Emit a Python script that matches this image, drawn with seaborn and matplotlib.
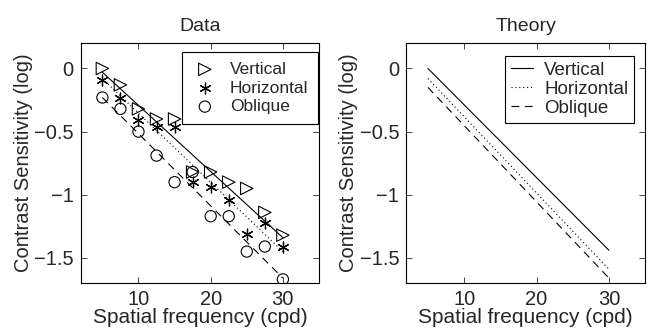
import numpy as np
import pandas as pd
import matplotlib
matplotlib.use('Agg')
import matplotlib.pyplot as plt
import seaborn as sns

# Measured contrast sensitivity (log) at each spatial frequency
freq = [5, 7.5, 10, 12.5, 15, 17.5, 20, 22.5, 25, 27.5, 30]
vertical = [0.0, -0.13, -0.32, -0.40, -0.40, -0.82, -0.82, -0.90, -0.95, -1.14, -1.32]
horizontal = [-0.09, -0.23, -0.41, -0.46, -0.46, -0.90, -0.94, -1.045, -1.31, -1.22, -1.41]
oblique = [-0.23, -0.32, -0.50, -0.69, -0.90, -0.82, -1.17, -1.17, -1.45, -1.41, -1.67]

# Fitted lines in the Data panel (end points)
fit_x = [5, 30]
fit_vertical = [-0.03, -1.34]
fit_horizontal = [-0.08, -1.45]
fit_oblique = [-0.23, -1.66]

# Theory curves (end points)
theory_x = [5, 30]
theory_vertical = [0.0, -1.44]
theory_horizontal = [-0.08, -1.59]
theory_oblique = [-0.15, -1.66]

xticks = [10, 20, 30]
yticks = [0, -0.5, -1, -1.5]
ytick_labels = ['0', '\u22120.5', '\u22121', '\u22121.5']

sns.set_style('ticks')
plt.rcParams['font.family'] = ['Liberation Sans', 'DejaVu Sans']

df = pd.DataFrame({'freq': freq, 'Vertical': vertical,
                   'Horizontal': horizontal, 'Oblique': oblique})
fit = pd.DataFrame({'x': fit_x, 'Vertical': fit_vertical,
                    'Horizontal': fit_horizontal, 'Oblique': fit_oblique})
theory = pd.DataFrame({'x': theory_x, 'Vertical': theory_vertical,
                       'Horizontal': theory_horizontal, 'Oblique': theory_oblique})

fig = plt.figure(figsize=(6.51, 3.30), dpi=100)
ax1 = fig.add_axes([0.124, 0.142, 0.366, 0.727])
ax2 = fig.add_axes([0.624, 0.142, 0.367, 0.727])

lw = 0.8
styles = {'Vertical': '-', 'Horizontal': (0, (1, 2.5)), 'Oblique': (0, (7, 5))}

# Data panel
for name in ['Vertical', 'Horizontal', 'Oblique']:
    sns.lineplot(data=fit, x='x', y=name, ax=ax1, color='black', lw=lw,
                 linestyle=styles[name], legend=False)
sns.scatterplot(data=df, x='freq', y='Vertical', ax=ax1, marker='>', s=80,
                facecolor='none', edgecolor='black', linewidth=0.8,
                label='Vertical', zorder=3)
sns.scatterplot(data=df, x='freq', y='Horizontal', ax=ax1, marker=(6, 2, 0), s=60,
                color='black', linewidth=0.9, label='Horizontal', zorder=3)
sns.scatterplot(data=df, x='freq', y='Oblique', ax=ax1, marker='o', s=65,
                facecolor='none', edgecolor='black', linewidth=0.8,
                label='Oblique', zorder=3)

# Theory panel
for name in ['Vertical', 'Horizontal', 'Oblique']:
    sns.lineplot(data=theory, x='x', y=name, ax=ax2, color='black', lw=lw,
                 linestyle=styles[name], label=name)

legend_opts = {
    'Data': dict(bbox_to_anchor=(0.996, 0.9625), fontsize=12.5, borderpad=0.55,
                 labelspacing=0.2, handlelength=1.5, handletextpad=0.7),
    'Theory': dict(bbox_to_anchor=(0.954, 0.946), fontsize=13.5, borderpad=0.3,
                   labelspacing=0.1, handlelength=1.2, handletextpad=0.6),
}

for ax, title in [(ax1, 'Data'), (ax2, 'Theory')]:
    ax.set_xlim(2, 35)
    ax.set_ylim(-1.7, 0.2)
    ax.set_xticks(xticks)
    ax.set_yticks(yticks)
    ax.set_yticklabels(ytick_labels)
    ax.tick_params(direction='in', top=True, right=True, length=4,
                   width=0.6, labelsize=14.5, pad=5)
    for sp in ax.spines.values():
        sp.set_visible(True)
        sp.set_linewidth(0.8)
        sp.set_color('black')
    ax.set_title(title, fontsize=14, pad=9)
    ax.set_xlabel('Spatial frequency (cpd)', fontsize=15, labelpad=-1)
    ax.set_ylabel('Contrast Sensitivity (log)', fontsize=14.5, labelpad=1)
    leg = ax.legend(loc='upper right', frameon=True, fancybox=False,
                    edgecolor='black', framealpha=1, borderaxespad=0,
                    **legend_opts[title])
    leg.get_frame().set_linewidth(0.8)

plt.savefig('out.png', dpi=100)
